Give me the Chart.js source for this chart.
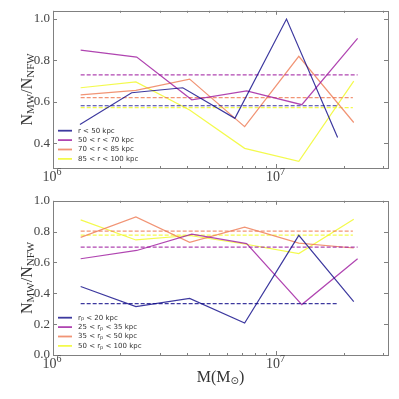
<!DOCTYPE html>
<html>
<head>
<meta charset="utf-8">
<script src="https://cdn.jsdelivr.net/npm/chart.js@4.4.1/dist/chart.umd.min.js"></script>
<style>
  body { margin: 0; background: #fff; }
  #box { position: relative; width: 399px; height: 399px; }
  canvas { position: absolute; left: 0; }
</style>
</head>
<body>
<div id="box">
  <canvas id="chartTop" width="399" height="190" style="top:0"></canvas>
  <canvas id="chartBottom" width="399" height="209" style="top:190px"></canvas>
</div>
<script>
// top panel: bins in galactocentric radius r
var topLabels = ["r < 50 kpc", "50 < r < 70 kpc", "70 < r < 85 kpc", "85 < r < 100 kpc"];
var topMass = [
  [1.32e6, 2.25e6, 3.81e6, 6.52e6, 1.11e7, 1.88e7],
  [1.33e6, 2.37e6, 4.18e6, 7.36e6, 1.30e7, 2.31e7],
  [1.33e6, 2.35e6, 4.09e6, 7.21e6, 1.26e7, 2.22e7],
  [1.33e6, 2.35e6, 4.09e6, 7.21e6, 1.26e7, 2.22e7]
];
var topRatio = [
  [0.49, 0.644, 0.668, 0.52, 1.0, 0.428],
  [0.85, 0.816, 0.61, 0.653, 0.586, 0.907],
  [0.634, 0.655, 0.71, 0.48, 0.82, 0.50],
  [0.668, 0.696, 0.56, 0.375, 0.312, 0.70]
];
var topMean = [0.581, 0.73, 0.62, 0.572];
var topMeanSpan = [[1.33e6, 1.88e7], [1.33e6, 2.31e7], [1.33e6, 2.2e7], [1.33e6, 2.2e7]];

// bottom panel: bins in pericentre r_p
var bottomLabels = ["rₚ < 20 kpc", "25 < rₚ < 35 kpc", "35 < rₚ < 50 kpc", "50 < rₚ < 100 kpc"];
var bottomMass = [
  [1.33e6, 2.35e6, 4.09e6, 7.21e6, 1.26e7, 2.22e7],
  [1.33e6, 2.37e6, 4.18e6, 7.36e6, 1.30e7, 2.31e7],
  [1.33e6, 2.35e6, 4.09e6, 7.21e6, 1.26e7, 2.22e7],
  [1.33e6, 2.35e6, 4.09e6, 7.21e6, 1.26e7, 2.22e7]
];
var bottomRatio = [
  [0.444, 0.314, 0.367, 0.207, 0.776, 0.346],
  [0.624, 0.678, 0.784, 0.722, 0.327, 0.624],
  [0.763, 0.895, 0.731, 0.829, 0.726, 0.694],
  [0.876, 0.746, 0.775, 0.72, 0.658, 0.88]
];
var bottomMean = [0.333, 0.70, 0.803, 0.778];
var bottomMeanSpan = [[1.33e6, 1.88e7], [1.33e6, 2.31e7], [1.33e6, 2.2e7], [1.33e6, 2.2e7]];

// axes
var xRange = [1e6, 3.16e7];
var xMajor = [1e6, 1e7];
var xMajorExp = ["6", "7"];
var xMinor = [2e6, 3e6, 4e6, 5e6, 6e6, 7e6, 8e6, 9e6, 2e7, 3e7];
var topYRange = [0.28, 1.04];
var topYTicks = [0.4, 0.6, 0.8, 1.0];
var bottomYRange = [0, 1.0];
var bottomYTicks = [0, 0.2, 0.4, 0.6, 0.8, 1.0];

var lineColors = ["rgba(13,8,135,0.8)", "rgba(156,23,158,0.8)", "rgba(237,121,83,0.8)", "rgba(240,249,33,0.8)"];
var serif = "'Liberation Serif', 'DejaVu Serif', serif";

function buildDatasets(mass, ratio, mean, span) {
  var sets = [];
  for (var i = 0; i < ratio.length; i++) {
    sets.push({
      data: mass[i].map(function (m, j) { return {x: m, y: ratio[i][j]}; }),
      borderColor: lineColors[i],
      borderWidth: 1.2
    });
    sets.push({
      data: [{x: span[i][0], y: mean[i]}, {x: span[i][1], y: mean[i]}],
      borderColor: lineColors[i],
      borderWidth: 1.2,
      borderDash: [4, 2]
    });
  }
  return sets;
}

// draws text runs like N_MW with smaller, shifted pieces
function drawRuns(ctx, runs, x, y, center) {
  var w = 0;
  runs.forEach(function (r) { ctx.font = r[1] + "px " + r[3]; w += ctx.measureText(r[0]).width; });
  var cx = center ? x - w / 2 : x;
  runs.forEach(function (r) {
    ctx.font = r[1] + "px " + r[3];
    ctx.fillText(r[0], cx, y + r[2]);
    cx += ctx.measureText(r[0]).width;
  });
}

var decor = {
  id: "decor",
  afterDatasetsDraw: function (chart, args, opts) {
    var ctx = chart.ctx, a = chart.chartArea, xs = chart.scales.x, ys = chart.scales.y;
    ctx.save();
    // frame
    ctx.strokeStyle = "#808080";
    ctx.lineWidth = 1;
    ctx.strokeRect(Math.round(a.left) + 0.5, Math.round(a.top) + 0.5, Math.round(a.right - a.left), Math.round(a.bottom - a.top));
    // inward tick marks
    ctx.beginPath();
    ys.ticks.forEach(function (t) {
      var y = Math.round(ys.getPixelForValue(t.value)) + 0.5;
      ctx.moveTo(a.left, y); ctx.lineTo(a.left + 4, y);
      ctx.moveTo(a.right, y); ctx.lineTo(a.right - 4, y);
    });
    xMajor.forEach(function (v) {
      var x = Math.round(xs.getPixelForValue(v)) + 0.5;
      ctx.moveTo(x, a.bottom); ctx.lineTo(x, a.bottom - 4);
      ctx.moveTo(x, a.top); ctx.lineTo(x, a.top + 4);
    });
    xMinor.forEach(function (v) {
      var x = Math.round(xs.getPixelForValue(v)) + 0.5;
      ctx.moveTo(x, a.bottom); ctx.lineTo(x, a.bottom - 2);
      ctx.moveTo(x, a.top); ctx.lineTo(x, a.top + 2);
    });
    ctx.stroke();

    // x tick labels 10^n
    ctx.fillStyle = "#444";
    ctx.textBaseline = "alphabetic";
    xMajor.forEach(function (v, i) {
      drawRuns(ctx, [["10", 14, 0, serif], [xMajorExp[i], 10, -6, serif]], xs.getPixelForValue(v) - 1, a.bottom + 13, true);
    });

    // legend, lower left
    ctx.textBaseline = "middle";
    ctx.fillStyle = "#333";
    opts.labels.forEach(function (lab, i) {
      var y = a.bottom - 37.3 + i * 9.4;
      ctx.strokeStyle = lineColors[i];
      ctx.lineWidth = 1.8;
      ctx.beginPath();
      ctx.moveTo(a.left + 5, y); ctx.lineTo(a.left + 19, y);
      ctx.stroke();
      var parts = lab.split("ₚ"), runs = [];
      parts.forEach(function (p, k) {
        if (k > 0) runs.push(["p", 5, 1.5, "'DejaVu Sans'"]);
        runs.push([p, 7, 0, "'DejaVu Sans'"]);
      });
      drawRuns(ctx, runs, a.left + 25, y, false);
    });

    // y title
    ctx.fillStyle = "#333";
    ctx.textBaseline = "alphabetic";
    ctx.save();
    ctx.translate(31.5, (a.top + a.bottom) / 2);
    ctx.rotate(-Math.PI / 2);
    drawRuns(ctx, [["N", 16, 0, serif], ["MW", 11, 2, serif], ["/N", 16, 0, serif], ["NFW", 11, 2, serif]], 0, 0, true);
    ctx.restore();

    // x title
    if (opts.xTitle) {
      drawRuns(ctx, [["M(M", 16, 0, serif], ["⊙", 10, 2, "'DejaVu Sans'"], [")", 16, 0, serif]], (a.left + a.right) / 2, a.bottom + 27, true);
    }
    ctx.restore();
  }
};

function makeOptions(yRange, yTicks, axisHeight, padTop, labels, xTitle) {
  return {
    responsive: false,
    animation: false,
    events: [],
    layout: {padding: {top: padTop, right: 11, left: 0, bottom: 0}},
    elements: {point: {radius: 0}, line: {tension: 0, fill: false}},
    plugins: {
      legend: {display: false},
      tooltip: {enabled: false},
      decor: {labels: labels, xTitle: xTitle}
    },
    scales: {
      x: {
        type: "logarithmic",
        min: xRange[0], max: xRange[1],
        grid: {display: false, drawTicks: false},
        border: {display: false},
        afterBuildTicks: function (s) { s.ticks = xMajor.map(function (v) { return {value: v}; }); },
        afterFit: function (s) { s.height = axisHeight; },
        ticks: {display: false}
      },
      y: {
        min: yRange[0], max: yRange[1],
        grid: {display: false, drawTicks: false},
        border: {display: false},
        afterBuildTicks: function (s) { s.ticks = yTicks.map(function (v) { return {value: v}; }); },
        afterFit: function (s) { s.width = 53; },
        ticks: {
          padding: 3, color: "#444", font: {family: serif, size: 13},
          callback: function (v) { return v.toFixed(1); }
        }
      }
    }
  };
}

new Chart("chartTop", {
  type: "line",
  data: {datasets: buildDatasets(topMass, topRatio, topMean, topMeanSpan)},
  options: makeOptions(topYRange, topYTicks, 22, 10, topLabels, false),
  plugins: [decor]
});

new Chart("chartBottom", {
  type: "line",
  data: {datasets: buildDatasets(bottomMass, bottomRatio, bottomMean, bottomMeanSpan)},
  options: makeOptions(bottomYRange, bottomYTicks, 44, 8, bottomLabels, true),
  plugins: [decor]
});
</script>
</body>
</html>
